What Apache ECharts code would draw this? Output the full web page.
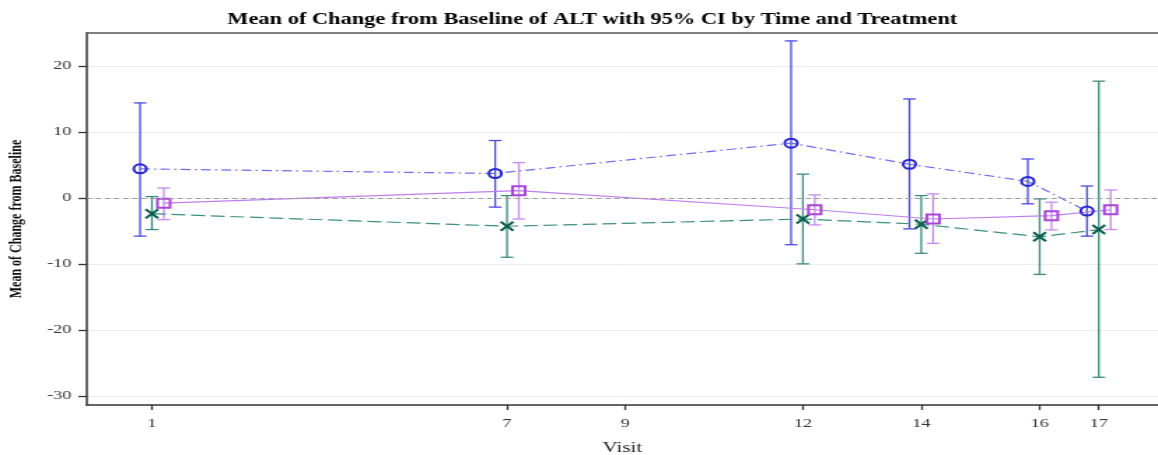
<!DOCTYPE html>
<html>
<head>
<meta charset="utf-8">
<title>Mean of Change from Baseline of ALT</title>
<script src="https://cdn.jsdelivr.net/npm/echarts@6/dist/echarts.min.js"></script>
<style>
  html, body { margin: 0; padding: 0; background: #fff; overflow: hidden; }
  /* the chart is laid out at a narrower width and stretched horizontally */
  #chart { width: 827px; height: 455px; transform-origin: 0 0; transform: scaleX(1.40024); }
</style>
</head>
<body>
<div id="chart"></div>
<script>
// Visits on the x axis and the tick labels shown
const visits = [1, 7, 12, 14, 16, 17];
const xTicks = [1, 7, 9, 12, 14, 16, 17];
const yTicks = [-30, -20, -10, 0, 10, 20];

// Treatment group 1 (blue circles, dash-dot)
const g1Mean  = [4.4, 3.7, 8.3, 5.1, 2.5, -2.0];
const g1Lower = [-5.8, -1.4, -7.1, -4.7, -0.9, -5.8];
const g1Upper = [14.4, 8.7, 23.8, 15.0, 5.9, 1.8];

// Treatment group 2 (green crosses, dashed)
const g2Mean  = [-2.4, -4.3, -3.2, -4.0, -5.9, -4.8];
const g2Lower = [-4.8, -9.0, -10.0, -8.4, -11.6, -27.2];
const g2Upper = [0.2, 0.35, 3.6, 0.35, -0.15, 17.7];

// Treatment group 3 (purple squares, solid)
const g3Mean  = [-0.8, 1.1, -1.8, -3.2, -2.7, -1.8];
const g3Lower = [-3.3, -3.2, -4.1, -6.9, -4.85, -4.8];
const g3Upper = [1.5, 5.35, 0.45, 0.6, -0.65, 1.2];

const FONT = 'Liberation Serif';
const DODGE = 0.2; // horizontal offset between groups at the same visit

function errorBars(name, color, offset, lows, highs) {
  return {
    name: name + ' CI',
    type: 'custom',
    silent: true,
    z: 2,
    data: visits.map((v, i) => [v + offset, lows[i], highs[i]]),
    encode: { x: 0, y: [1, 2] },
    renderItem: function (params, api) {
      const x = api.value(0);
      const lo = api.coord([x, api.value(1)]);
      const hi = api.coord([x, api.value(2)]);
      const hw = 4.5;
      const st = { stroke: color, lineWidth: 1.3 };
      return {
        type: 'group',
        children: [
          { type: 'line', shape: { x1: lo[0], y1: lo[1], x2: hi[0], y2: hi[1] }, style: st },
          { type: 'line', shape: { x1: lo[0] - hw, y1: lo[1], x2: lo[0] + hw, y2: lo[1] }, style: st },
          { type: 'line', shape: { x1: hi[0] - hw, y1: hi[1], x2: hi[0] + hw, y2: hi[1] }, style: st }
        ]
      };
    }
  };
}

function meanLine(name, offset, means, symbol, markColor, lineColor, dash, extra) {
  const s = {
    name: name,
    type: 'line',
    z: 3,
    data: visits.map((v, i) => [v + offset, means[i]]),
    symbol: symbol,
    symbolSize: 9,
    showAllSymbol: true,
    itemStyle: { color: 'rgba(0,0,0,0)', borderColor: markColor, borderWidth: 2 },
    lineStyle: { color: lineColor, width: 1.2, type: dash },
    emphasis: { disabled: true }
  };
  return Object.assign(s, extra || {});
}

const chart = echarts.init(document.getElementById('chart'), null, { renderer: 'canvas' });

chart.setOption({
  animation: false,
  backgroundColor: '#fff',
  title: {
    text: 'Mean of Change from Baseline of ALT with 95% CI by Time and Treatment',
    left: 418,
    textAlign: 'center',
    top: 7,
    textStyle: { fontFamily: FONT, fontSize: 16, fontWeight: 'bold', color: '#000' }
  },
  grid: { left: 62, right: 0, top: 33, bottom: 50, containLabel: false, outerBoundsMode: 'none' },
  xAxis: [
    {
      type: 'value',
      min: -0.1,
      max: 18,
      name: 'Visit',
      nameLocation: 'middle',
      nameGap: 36,
      nameTextStyle: { fontFamily: FONT, fontSize: 15, color: '#222' },
      axisLine: { show: true, onZero: false, lineStyle: { color: '#333', width: 1.5 } },
      axisTick: { show: true, length: 5, customValues: xTicks, lineStyle: { color: '#333', width: 1.3 } },
      axisLabel: { customValues: xTicks, margin: 12, fontFamily: FONT, fontSize: 13, color: '#333' },
      splitLine: { show: false }
    },
    {
      type: 'value',
      position: 'top',
      min: -0.1,
      max: 18,
      axisLine: { show: true, onZero: false, lineStyle: { color: '#555', width: 1.5 } },
      axisTick: { show: false },
      axisLabel: { show: false },
      splitLine: { show: false }
    }
  ],
  yAxis: {
    type: 'value',
    min: -31.4,
    max: 25,
    name: 'Mean of Change from Baseline',
    nameLocation: 'middle',
    nameRotate: 90,
    nameGap: 44,
    nameTextStyle: { fontFamily: FONT, fontSize: 12, fontWeight: 'bold', color: '#111' },
    axisLine: { show: true, onZero: false, lineStyle: { color: '#333', width: 1.5 } },
    axisTick: { show: true, length: 6, customValues: yTicks, lineStyle: { color: '#333', width: 1.3 } },
    axisLabel: { customValues: yTicks, margin: 11, fontFamily: FONT, fontSize: 13, color: '#333' },
    splitLine: { show: true, lineStyle: { color: '#ececec', width: 1 } }
  },
  series: [
    errorBars('Group 1', '#4b4be6', -DODGE, g1Lower, g1Upper),
    errorBars('Group 2', '#3c8c7c', 0, g2Lower, g2Upper),
    errorBars('Group 3', '#c88af0', DODGE, g3Lower, g3Upper),
    meanLine('Group 1', -DODGE, g1Mean, 'circle', '#2424d2', '#6c6cf0', [7, 3, 1.5, 3], {
      markLine: {
        silent: true,
        symbol: ['none', 'none'],
        label: { show: false },
        lineStyle: { color: '#9a9a9a', type: [3.5, 3], width: 1 },
        data: [{ yAxis: 0 }]
      }
    }),
    meanLine('Group 2', 0, g2Mean, 'path://M0,0L10,10M10,0L0,10', '#0b5f4f', '#3d8f80', [10, 4]),
    meanLine('Group 3', DODGE, g3Mean, 'rect', '#a845d8', '#c07ef0', 'solid')
  ]
});
</script>
</body>
</html>
